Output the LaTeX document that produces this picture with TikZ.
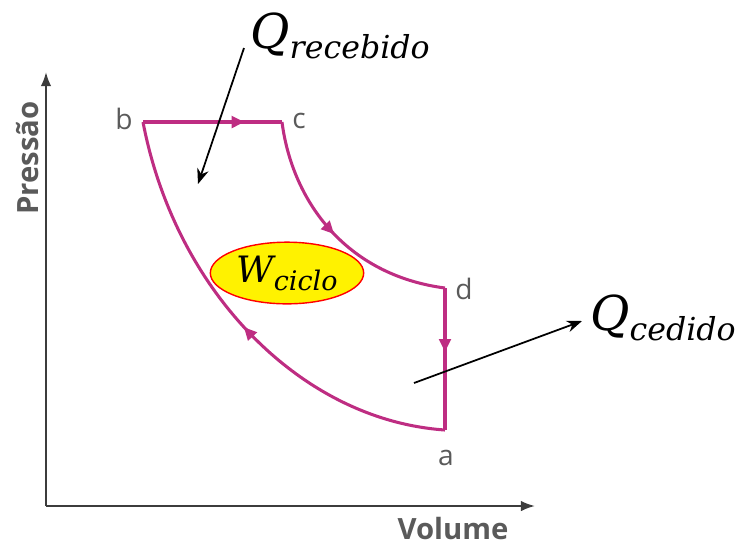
\documentclass[tikz,border=0pt]{standalone}
\usepackage{fontspec}
\setsansfont{Open Sans}
\newfontfamily\qtyfont{DejaVu Serif}
\usetikzlibrary{arrows.meta, positioning, shapes.geometric, decorations.markings}

\definecolor{cycle}{RGB}{190,45,130}
\definecolor{axisgray}{RGB}{60,60,60}
\definecolor{labgray}{RGB}{90,90,90}

% quantity with subscript: #1 size, #2 letter, #3 sub size, #4 subscript
\newcommand{\qty}[4]{{\qtyfont\itshape\fontsize{#1}{#1}\selectfont #2\raisebox{-0.22em}{\fontsize{#3}{#3}\selectfont #4}}}

\begin{document}
\begin{tikzpicture}[
  x=0.03cm, y=-0.03cm,
  axis/.style={-{Latex[length=12pt,width=9pt]}, line width=1.8pt, draw=axisgray},
  axlabel/.style={font=\sffamily\bfseries\fontsize{25}{28}\selectfont, text=labgray},
  state/.style={font=\sffamily\fontsize{24}{26}\selectfont, text=labgray, inner sep=1pt},
  proc/.style={draw=cycle, line width=2.6pt, line join=round},
  midarrow/.style={postaction={decorate}, decoration={markings,
      mark=at position #1 with {\arrow{Triangle[length=11pt,width=10pt]}}}},
  pointer/.style={-{Stealth[length=13pt,width=10pt]}, line width=1.5pt}
]
\useasboundingbox (0,0) rectangle (740,546);

% ------------------------------------------------------------
% Axes
% ------------------------------------------------------------

\coordinate (origin) at (46,506);
\coordinate (ptop) at (46,72);
\coordinate (vend) at (535,506);

\draw[axis] (origin) -- (ptop);
\draw[axis] (origin) -- (vend);

\node[axlabel, rotate=90] (pres) at (28,158) {Pressão};
\node[axlabel] (vol) at (453,528) {Volume};

% ------------------------------------------------------------
% States of the cycle
% ------------------------------------------------------------

\coordinate (sb) at (143,122);
\coordinate (sc) at (282,122);
\coordinate (sd) at (445,288);
\coordinate (sa) at (445,430);

\node[state] (lb) at (124,119) {b};
\node[state] (lc) at (299,121) {c};
\node[state] (ld) at (464,289) {d};
\node[state] (la) at (446,458) {a};

% ------------------------------------------------------------
% Processes
% ------------------------------------------------------------

\draw[proc, midarrow=0.73] (sb) -- (sc);
\draw[proc, midarrow=0.5] (sc) .. controls (292,200) and (345,275) .. (sd);
\draw[proc, midarrow=0.45] (sd) -- (sa);
\draw[proc, midarrow=0.5] (sa) .. controls (300,420) and (175,290) .. (sb);

% ------------------------------------------------------------
% Work and heat
% ------------------------------------------------------------

\node[ellipse, draw=red, line width=1.2pt, fill=yellow, minimum width=4.6cm, minimum height=1.85cm, inner sep=0pt] (wc) at (287,273)
  {\qty{31}{W}{23}{ciclo}};

\node (qr) at (340,36) {\qty{41}{Q}{27}{recebido}};
\coordinate (qrtail) at (244,48);
\coordinate (qrtip) at (198,184);
\draw[pointer] (qrtail) -- (qrtip);

\node (qc) at (663,318) {\qty{41}{Q}{27}{cedido}};
\coordinate (qctail) at (414,383);
\coordinate (qctip) at (582,321);
\draw[pointer] (qctail) -- (qctip);

\end{tikzpicture}
\end{document}
